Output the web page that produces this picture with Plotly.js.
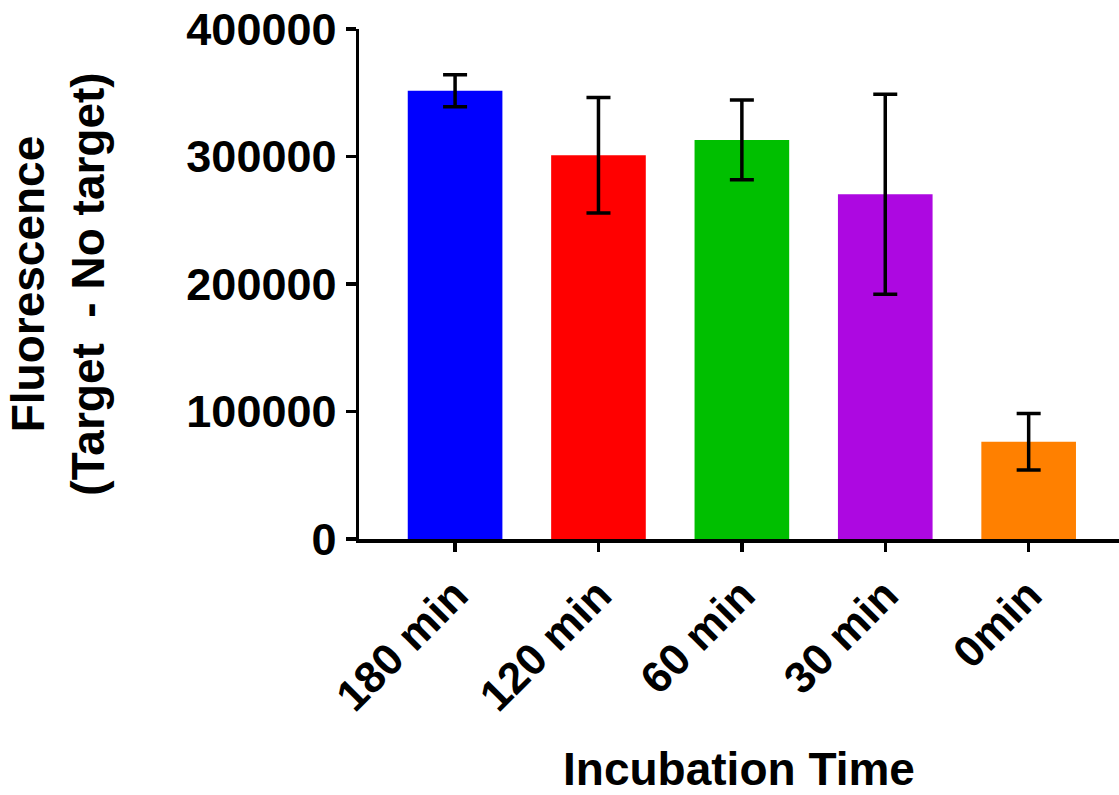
<!DOCTYPE html>
<html>
<head>
<meta charset="utf-8">
<script src="https://cdn.plot.ly/plotly-3.0.1.min.js"></script>
<style>html,body{margin:0;padding:0;background:#fff;}#chart{width:1119px;height:795px;}</style>
</head>
<body>
<div id="chart"></div>
<script>
const categories = ["180 min", "120 min", "60 min", "30 min", "0min"];
const meanValues = [351600, 301000, 313000, 270400, 76300];
const errorValues = [12600, 45300, 31300, 78500, 22200];
const barColors = ["#0000FF", "#FF0000", "#00BF00", "#AD08E1", "#FF8000"];
const yTickValues = [0, 100000, 200000, 300000, 400000];
const yTickLabels = ["0", "100000", "200000", "300000", "400000"];

const fontFamily = "Arial, 'Liberation Sans', sans-serif";

const trace = {
  type: "bar",
  x: categories,
  y: meanValues,
  width: 0.66,
  marker: {color: barColors, line: {width: 0}},
  error_y: {type: "data", array: errorValues, visible: true, color: "#000", thickness: 3.5, width: 12},
  hoverinfo: "x+y"
};

const layout = {
  width: 1119,
  height: 795,
  margin: {l: 359, r: 0, t: 29, b: 256, pad: 0},
  paper_bgcolor: "#fff",
  plot_bgcolor: "#fff",
  showlegend: false,
  font: {family: fontFamily, color: "#000", weight: "bold"},
  xaxis: {
    type: "category",
    range: [-0.67, 4.63],
    showline: true, linecolor: "#000", linewidth: 3.5,
    ticks: "outside", ticklen: 9, tickwidth: 3.5, tickcolor: "#000",
    tickangle: -45,
    tickfont: {family: fontFamily, size: 44, color: "#000", weight: "bold"},
    showgrid: false, zeroline: false,
    automargin: false,
    title: {text: "Incubation Time", font: {family: fontFamily, size: 46, color: "#000", weight: "bold"}, standoff: 36}
  },
  yaxis: {
    range: [0, 400000],
    tickvals: yTickValues,
    ticktext: yTickLabels,
    showline: true, linecolor: "#000", linewidth: 3.5,
    ticks: "outside", ticklen: 10, tickwidth: 3.5, tickcolor: "#000",
    tickfont: {family: fontFamily, size: 45, color: "#000", weight: "bold"},
    showgrid: false, zeroline: false,
    automargin: false,
    title: {text: "Fluorescence<br>(Target\u00A0\u00A0- No target)", font: {family: fontFamily, size: 46, color: "#000", weight: "bold"}, standoff: 68}
  }
};

Plotly.newPlot("chart", [trace], layout, {staticPlot: true, displayModeBar: false});
</script>
</body>
</html>
